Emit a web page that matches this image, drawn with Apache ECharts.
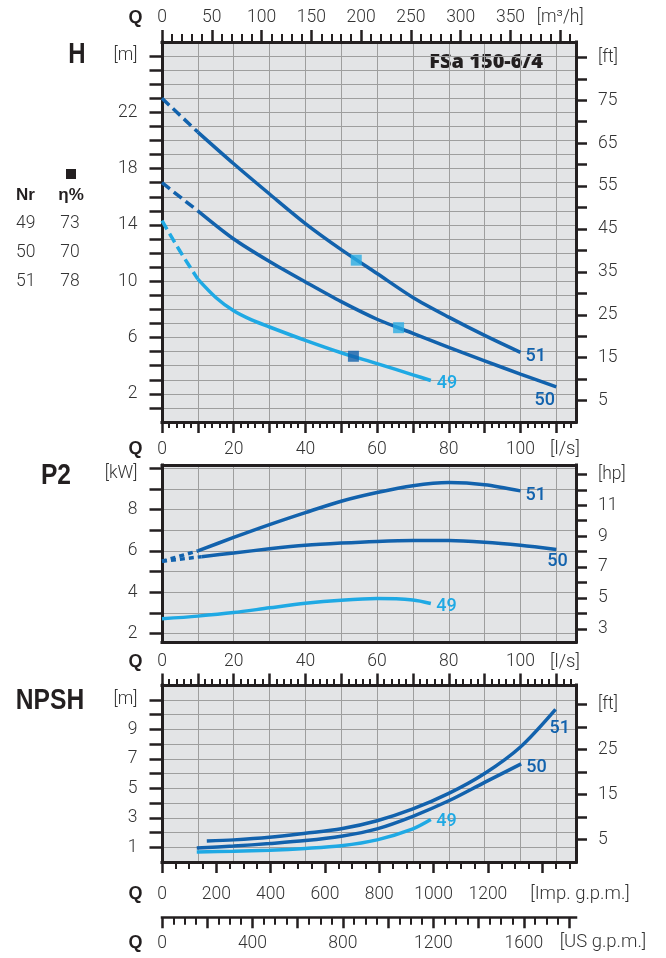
<!DOCTYPE html>
<html><head><meta charset="utf-8">
<script src="https://cdn.jsdelivr.net/npm/echarts@6/dist/echarts.min.js"></script>
<style>html,body{margin:0;padding:0;background:#fff}#c{width:666px;height:958px}</style>
</head><body><div id="c"></div>
<script>
// ---------------- DATA ----------------
const nrList  = ['49', '50', '51'];
const etaList = ['73', '70', '78'];

// H [m] vs Q [l/s]
const qH51dash = [0, 10];
const h51dash  = [23.0, 20.6];
const qH51 = [10, 20, 30, 40, 50, 60, 70, 80, 90, 100];
const h51  = [20.6, 18.35, 16.2, 14.1, 12.25, 10.55, 8.85, 7.45, 6.15, 4.95];
const qH50dash = [0, 10];
const h50dash  = [17.0, 15.0];
const qH50 = [10, 20, 30, 40, 50, 60, 70, 80, 90, 100, 110];
const h50  = [15.0, 13.0, 11.4, 9.95, 8.55, 7.3, 6.3, 5.3, 4.35, 3.4, 2.5];
const qH49dash = [0, 5, 10];
const h49dash  = [14.3, 12.15, 10.15];
const qH49 = [10, 15, 20, 25, 30, 40, 50, 60, 70, 75];
const h49  = [10.15, 8.85, 7.9, 7.25, 6.75, 5.8, 4.92, 4.15, 3.35, 2.95];
// best efficiency points (order 49, 50, 51)
const bepQ = [53.4, 66.0, 54.2];
const bepH = [4.67, 6.7, 11.5];

// P2 [kW] vs Q [l/s]
const qP51dot = [0, 10];
const p51dot  = [5.5, 6.0];
const qP51 = [10, 20, 30, 40, 50, 60, 70, 80, 90, 100];
const p51  = [6.0, 6.65, 7.27, 7.85, 8.4, 8.82, 9.15, 9.3, 9.2, 8.9];
const qP50dot = [0, 11];
const p50dot  = [5.5, 5.72];
const qP50 = [11, 20, 30, 40, 50, 60, 70, 80, 90, 100, 110];
const p50  = [5.72, 5.9, 6.1, 6.27, 6.38, 6.46, 6.5, 6.5, 6.42, 6.27, 6.07];
const qP49 = [0, 10, 20, 30, 40, 50, 60, 70, 75];
const p49  = [2.72, 2.85, 3.02, 3.25, 3.47, 3.62, 3.7, 3.63, 3.46];

// NPSH [m] vs Q [l/s]
const qN51 = [12.5, 20, 30, 40, 50, 60, 70, 80, 90, 100, 109.8];
const n51  = [1.42, 1.5, 1.68, 1.95, 2.25, 2.8, 3.6, 4.65, 6.0, 7.8, 10.35];
const qN50 = [9.7, 20, 30, 40, 50, 60, 70, 80, 90, 100.2];
const n50  = [0.95, 1.08, 1.25, 1.45, 1.75, 2.25, 3.1, 4.15, 5.4, 6.65];
const qN49 = [9.7, 20, 30, 40, 50, 60, 70, 75];
const n49  = [0.68, 0.73, 0.8, 0.92, 1.1, 1.5, 2.25, 2.88];

// tick label values / texts
const lsLabelVals  = [0, 20, 40, 60, 80, 100];
const m3hLabelVals = [0, 50, 100, 150, 200, 250, 300, 350, 400];
const m3hLabelTxt  = ['0', '50', '100', '150', '200', '250', '300', '350', '[m³/h]'];
const hLabelVals   = [2, 6, 10, 14, 18, 22, 26];
const hLabelTxt    = ['2', '6', '10', '14', '18', '22', '[m]'];
const hFtLabelVals = [5, 15, 25, 35, 45, 55, 65, 75, 85];
const hFtLabelTxt  = ['5', '15', '25', '35', '45', '55', '65', '75', '[ft]'];
const pLabelVals   = [2, 4, 6, 8, 10];
const pLabelTxt    = ['2', '4', '6', '8', '{u|[kW]}'];
const hpLabelVals  = [3, 5, 7, 9, 11, 13];
const hpLabelTxt   = ['3', '5', '7', '9', '11', '[hp]'];
const nLabelVals   = [1, 3, 5, 7, 9, 11];
const nLabelTxt    = ['1', '3', '5', '7', '9', '[m]'];
const nFtLabelVals = [5, 15, 25, 35];
const nFtLabelTxt  = ['5', '15', '25', '[ft]'];
const impLabelVals = [0, 200, 400, 600, 800, 1000, 1200];
const usLabelVals  = [0, 400, 800, 1200, 1600];

// ---------------- HELPERS ----------------
const QMAX = 115.5;
const M3H = 3.6, IMP = 13.198, USG = 15.85, M2FT = 1 / 0.3048, KW2HP = 1 / 0.7457;
const FRAME = '#231f20', GRIDC = '#9e9e9e', TXT = '#333333';
const DARK = '#1262ad', LIGHT = '#1fa9e4';
const TICKFONT = { fontFamily: 'Roboto', fontWeight: 300, fontSize: 17.5, color: TXT,
  rich: { u: { fontFamily: 'Roboto', fontWeight: 300, fontSize: 17.5, color: TXT, padding: [12, 0, 0, 0] } } };

function range(a, b, s) { const r = []; for (let v = a; v <= b + 1e-9; v += s) r.push(Math.round(v * 1000) / 1000); return r; }
function minorOf(a, b, s, major) { return range(a, b, s).filter(v => Math.abs(v / major - Math.round(v / major)) > 1e-6); }
function zip(q, v) { return q.map((x, i) => [x, v[i]]); }
function fmtFrom(vals, txt) { return v => { const i = vals.findIndex(x => Math.abs(x - v) < 1e-6); return i >= 0 ? txt[i] : ''; }; }

const lsMajor = range(0, 110, 10);
const lsMinor = minorOf(0, 114, 2, 10);
const lsGrid = range(10, 110, 10);

function ax(gridIndex, position, min, max, c) {
  c = c || {};
  return {
    type: 'value', gridIndex, position, min, max, offset: c.offset || 0,
    z: c.z == null ? 1 : c.z, silent: true,
    axisLine: { show: !!c.line, onZero: false, lineStyle: { color: FRAME, width: c.lineW || 3, cap: 'square' } },
    axisTick: { show: !!c.tickShow, customValues: c.ticks, length: c.tickLen || 10, inside: false,
      lineStyle: { color: FRAME, width: c.tickW || 2.5 } },
    axisLabel: Object.assign({ show: !!c.labels, customValues: c.labels, margin: c.margin || 8,
      formatter: c.fmt || (v => String(v)) }, TICKFONT),
    splitLine: { show: !!c.split, lineStyle: { color: GRIDC, width: 1 } },
    minorTick: { show: false }, minorSplitLine: { show: false }
  };
}
const xAxes = [], yAxes = [];
const addX = o => (xAxes.push(o), xAxes.length - 1);
const addY = o => (yAxes.push(o), yAxes.length - 1);

// ----- grid 0 : H -----
addX(ax(0, 'bottom', 0, QMAX, { z: 0, ticks: lsGrid, split: true }));
addY(ax(0, 'left', 0, 27, { z: 0, ticks: range(1, 26, 1), split: true }));
const xH = addX(ax(0, 'bottom', 0, QMAX, { line: true, tickShow: true, ticks: lsMajor, tickLen: 11,
  labels: lsLabelVals, margin: 19 }));
addX(ax(0, 'bottom', 0, QMAX, { tickShow: true, ticks: lsMinor, tickLen: 6, tickW: 2 }));
addX(ax(0, 'top', 0, QMAX * M3H, { line: true, tickShow: true, ticks: range(0, 400, 50), tickLen: 12,
  labels: m3hLabelVals, fmt: fmtFrom(m3hLabelVals, m3hLabelTxt), margin: 15 }));
addX(ax(0, 'top', 0, QMAX * M3H, { tickShow: true, ticks: minorOf(0, 410, 10, 50), tickLen: 8, tickW: 2 }));
const yH = addY(ax(0, 'left', 0, 27, { line: true, tickShow: true, ticks: range(1, 26, 1), tickLen: 12.5,
  labels: hLabelVals, fmt: fmtFrom(hLabelVals, hLabelTxt), margin: 24.5 }));
addY(ax(0, 'right', 0, 27 * M2FT, { line: true, tickShow: true, ticks: range(5, 85, 5), tickLen: 11,
  labels: hFtLabelVals, fmt: fmtFrom(hFtLabelVals, hFtLabelTxt), margin: 22 }));

// ----- grid 1 : P2 -----
addX(ax(1, 'bottom', 0, QMAX, { z: 0, ticks: lsGrid, split: true }));
addY(ax(1, 'left', 1.6, 10.15, { z: 0, ticks: range(2, 10, 1), split: true }));
const xP = addX(ax(1, 'bottom', 0, QMAX, { line: true, labels: lsLabelVals, margin: 11 }));
addX(ax(1, 'top', 0, QMAX, { line: true }));
const yP = addY(ax(1, 'left', 1.6, 10.15, { line: true, tickShow: true, ticks: range(2, 10, 1), tickLen: 12.5,
  labels: pLabelVals, fmt: fmtFrom(pLabelVals, pLabelTxt), margin: 24.5 }));
addY(ax(1, 'right', 1.6 * KW2HP, 10.15 * KW2HP, { line: true, tickShow: true, ticks: range(3, 13, 1), tickLen: 11,
  labels: hpLabelVals, fmt: fmtFrom(hpLabelVals, hpLabelTxt), margin: 22 }));

// ----- grid 2 : NPSH -----
addX(ax(2, 'bottom', 0, QMAX, { z: 0, ticks: lsGrid, split: true }));
addY(ax(2, 'left', 0, 12, { z: 0, ticks: range(1, 11, 1), split: true }));
const xN = addX(ax(2, 'top', 0, QMAX, { line: true, tickShow: true, ticks: lsMajor, tickLen: 11.5 }));
addX(ax(2, 'top', 0, QMAX, { tickShow: true, ticks: lsMinor, tickLen: 6, tickW: 2 }));
addX(ax(2, 'bottom', 0, QMAX * IMP, { line: true, tickShow: true, ticks: range(0, 1400, 200), tickLen: 11,
  labels: impLabelVals, margin: 23.5 }));
addX(ax(2, 'bottom', 0, QMAX * IMP, { tickShow: true, ticks: minorOf(0, 1500, 50, 200), tickLen: 7, tickW: 2 }));
addX(ax(2, 'bottom', 0, QMAX * USG, { offset: 55.7, line: true, lineW: 2.5, tickShow: true, ticks: range(0, 1800, 200),
  tickLen: 10.5, labels: usLabelVals, margin: 17 }));
addX(ax(2, 'bottom', 0, QMAX * USG, { offset: 55.7, tickShow: true, ticks: minorOf(0, 1800, 50, 200), tickLen: 7, tickW: 2 }));
const yN = addY(ax(2, 'left', 0, 12, { line: true, tickShow: true, ticks: range(1, 11, 1), tickLen: 12.5,
  labels: nLabelVals, fmt: fmtFrom(nLabelVals, nLabelTxt), margin: 24.5 }));
addY(ax(2, 'right', 0, 12 * M2FT, { line: true, tickShow: true, ticks: range(5, 35, 5), tickLen: 11,
  labels: nFtLabelVals, fmt: fmtFrom(nFtLabelVals, nFtLabelTxt), margin: 22 }));

// ----- series -----
function line(xi, yi, q, v, color, o) {
  o = o || {};
  const s = {
    type: 'line', xAxisIndex: xi, yAxisIndex: yi, data: zip(q, v), showSymbol: false, symbol: 'none',
    smooth: o.smooth == null ? 0.3 : o.smooth, silent: true, animation: false, z: 3,
    lineStyle: { color, width: 3.5, type: o.dash || 'solid', cap: 'butt' }
  };
  if (o.label) {
    s.endLabel = { show: true, formatter: () => o.label, color, fontFamily: 'Roboto', fontWeight: 500,
      fontSize: 18, distance: 0, offset: o.off, align: 'left', verticalAlign: 'middle' };
  }
  return s;
}
const DASH = [10, 5], DOT = [5, 4];
const series = [
  line(xH, yH, qH51dash, h51dash, DARK, { dash: DASH, smooth: false }),
  line(xH, yH, qH51, h51, DARK, { label: nrList[2], off: [5, 4.5] }),
  line(xH, yH, qH50dash, h50dash, DARK, { dash: DASH, smooth: false }),
  line(xH, yH, qH50, h50, DARK, { label: nrList[1], off: [-21.8, 13.5] }),
  line(xH, yH, qH49dash, h49dash, LIGHT, { dash: DASH }),
  line(xH, yH, qH49, h49, LIGHT, { label: nrList[0], off: [6, 3.5] }),
  line(xP, yP, qP51dot, p51dot, DARK, { dash: DOT, smooth: false }),
  line(xP, yP, qP51, p51, DARK, { label: nrList[2], off: [5, 5] }),
  line(xP, yP, qP50dot, p50dot, DARK, { dash: DOT, smooth: false }),
  line(xP, yP, qP50, p50, DARK, { label: nrList[1], off: [-9, 12] }),
  line(xP, yP, qP49, p49, LIGHT, { label: nrList[0], off: [5.5, 3] }),
  line(xN, yN, qN51, n51, DARK, { label: nrList[2], off: [-6, 18.7] }),
  line(xN, yN, qN50, n50, DARK, { label: nrList[1], off: [5, 3.6] }),
  line(xN, yN, qN49, n49, LIGHT, { label: nrList[0], off: [5.5, 1.5] }),
  {
    type: 'scatter', xAxisIndex: xH, yAxisIndex: yH, symbol: 'rect', symbolSize: 11, z: 4, silent: true, animation: false,
    data: bepQ.map((q, i) => ({ value: [q, bepH[i]], itemStyle: { color: i === 0 ? DARK : '#2aace3' } }))
  }
];

// ----- texts -----
const BIG = { fontFamily: 'Liberation Sans', fontWeight: 'bold', fontSize: 30, fill: '#231f20', align: 'center', verticalAlign: 'middle' };
const Q = { fontFamily: 'Liberation Sans', fontWeight: 'bold', fontSize: 18, fill: '#231f20', align: 'center', verticalAlign: 'middle' };
const UNIT = { fontFamily: 'Roboto', fontWeight: 300, fontSize: 18.5, fill: TXT, align: 'center', verticalAlign: 'middle' };
const TBL = { fontFamily: 'Roboto', fontWeight: 300, fontSize: 17.5, fill: TXT, verticalAlign: 'middle' };
const graphics = [
  { type: 'text', x: 77, y: 55, scaleX: 0.8, style: Object.assign({ text: 'H' }, BIG) },
  { type: 'text', x: 56, y: 476, scaleX: 0.82, style: Object.assign({ text: 'P2' }, BIG) },
  { type: 'text', x: 50, y: 701, scaleX: 0.82, style: Object.assign({ text: 'NPSH' }, BIG) },
  { type: 'text', x: 543, y: 62, style: { text: 'FSa 150-6/4', fontFamily: 'Open Sans', fontWeight: 800, fontSize: 20,
      fill: '#231f20', align: 'right', verticalAlign: 'middle' } },
  { type: 'rect', shape: { x: 66, y: 169, width: 10, height: 10 }, style: { fill: '#231f20' } },
  { type: 'text', x: 16, y: 195.5, style: { text: 'Nr', fontFamily: 'Liberation Sans', fontWeight: 'bold', fontSize: 17,
      fill: '#231f20', align: 'left', verticalAlign: 'middle' } },
  { type: 'text', x: 71, y: 195.5, style: { text: 'η%', fontFamily: 'Liberation Sans', fontWeight: 'bold', fontSize: 17,
      fill: '#231f20', align: 'center', verticalAlign: 'middle' } },
  { type: 'text', x: 135.5, y: 18, style: Object.assign({ text: 'Q' }, Q) },
  { type: 'text', x: 135.5, y: 449, style: Object.assign({ text: 'Q' }, Q) },
  { type: 'text', x: 135.5, y: 662, style: Object.assign({ text: 'Q' }, Q) },
  { type: 'text', x: 135.5, y: 894, style: Object.assign({ text: 'Q' }, Q) },
  { type: 'text', x: 135.5, y: 943, style: Object.assign({ text: 'Q' }, Q) },
  { type: 'text', x: 565, y: 449, style: Object.assign({ text: '[l/s]' }, UNIT) },
  { type: 'text', x: 565, y: 662, style: Object.assign({ text: '[l/s]' }, UNIT) },
  { type: 'text', x: 580, y: 894, style: Object.assign({ text: '[Imp. g.p.m.]' }, UNIT) },
  { type: 'text', x: 603, y: 942.5, style: Object.assign({ text: '[US g.p.m.]' }, UNIT) }
];
const rowY = [224, 253, 282];
nrList.forEach((nr, i) => {
  graphics.push({ type: 'text', x: 16, y: rowY[i], style: Object.assign({ text: nr, align: 'left' }, TBL) });
  graphics.push({ type: 'text', x: 70, y: rowY[i], style: Object.assign({ text: etaList[i], align: 'center' }, TBL) });
});

const gridBase = { left: 162, width: 414, show: true, backgroundColor: '#e3e4e6', borderWidth: 0,
  containLabel: false, outerBoundsMode: 'none' };
const option = {
  animation: false,
  backgroundColor: '#ffffff',
  grid: [
    Object.assign({ top: 42, height: 380 }, gridBase),
    Object.assign({ top: 465, height: 177 }, gridBase),
    Object.assign({ top: 685, height: 177 }, gridBase)
  ],
  xAxis: xAxes,
  yAxis: yAxes,
  series,
  graphic: graphics
};
const chart = echarts.init(document.getElementById('c'), null, { renderer: 'canvas' });
chart.setOption(option);
</script></body></html>
